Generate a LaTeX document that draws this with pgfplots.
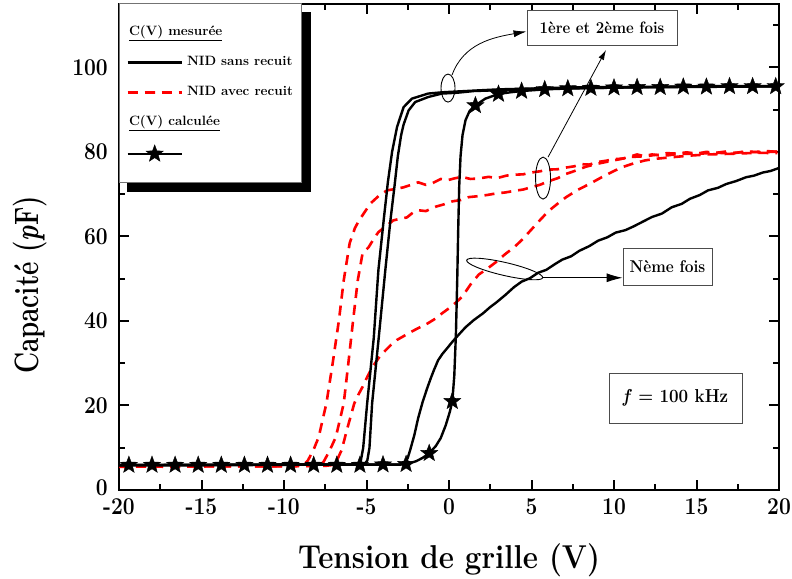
\documentclass[border=0pt]{standalone}
\usepackage{fontspec}
\usepackage{pgfplots}
\pgfplotsset{compat=1.18}
\usetikzlibrary{arrows.meta}

\pgfdeclareplotmark{fstar}{%
  \pgfpathmoveto{\pgfpointpolar{90}{\pgfplotmarksize}}%
  \pgfpathlineto{\pgfpointpolar{126}{0.42\pgfplotmarksize}}%
  \pgfpathlineto{\pgfpointpolar{162}{\pgfplotmarksize}}%
  \pgfpathlineto{\pgfpointpolar{198}{0.42\pgfplotmarksize}}%
  \pgfpathlineto{\pgfpointpolar{234}{\pgfplotmarksize}}%
  \pgfpathlineto{\pgfpointpolar{270}{0.42\pgfplotmarksize}}%
  \pgfpathlineto{\pgfpointpolar{306}{\pgfplotmarksize}}%
  \pgfpathlineto{\pgfpointpolar{342}{0.42\pgfplotmarksize}}%
  \pgfpathlineto{\pgfpointpolar{18}{\pgfplotmarksize}}%
  \pgfpathlineto{\pgfpointpolar{54}{0.42\pgfplotmarksize}}%
  \pgfpathclose
  \pgfusepathqfillstroke}

\newcommand{\tl}[1]{\scalebox{1}[1.15]{#1}}

\begin{document}
\begin{tikzpicture}[x=1pt,y=1pt]
% shadow of the legend box
\fill[black] (126.5,386) rectangle (310.5,566);
\begin{axis}[
  at={(119pt,88pt)}, anchor=south west,
  scale only axis, width=660pt, height=486pt,
  xmin=-20, xmax=20, ymin=0, ymax=115,
  xtick={-20,-15,...,20},
  xticklabels={\tl{-20},\tl{-15},\tl{-10},\tl{-5},\tl{0},\tl{5},\tl{10},\tl{15},\tl{20}},
  minor xtick={-17.5,-12.5,...,17.5},
  ytick={0,20,...,100},
  yticklabels={\raisebox{5pt}{\tl{0}},\tl{20},\tl{40},\tl{60},\tl{80},\tl{100}},
  minor ytick={10,30,...,110},
  tick align=inside,
  major tick length=10pt, minor tick length=6pt,
  every tick/.style={black, line width=2pt},
  axis line style={line width=2.6pt},
  ticklabel style={font=\bfseries\fontsize{21}{24}\selectfont, inner sep=0pt},
  xticklabel style={anchor=north, yshift=-8pt},
  yticklabel style={anchor=east, xshift=-11pt},
  xlabel={\scalebox{1}[1.12]{Tension de grille (V)}},
  ylabel={\scalebox{1}[1.3]{Capacité (\textit{p}F)}},
  label style={font=\bfseries\fontsize{29.5}{34}\selectfont},
  xlabel style={at={(axis description cs:0.5,-0.1605)}, anchor=base},
  ylabel style={at={(axis description cs:-0.1348,0.422)}, anchor=center, font=\bfseries\fontsize{26}{30}\selectfont},
  legend style={at={(axis description cs:0,1)}, anchor=north west, yshift=1pt,
    draw=black!55, line width=0.8pt, fill=white,
    inner xsep=7pt, inner ysep=21.5pt, row sep=15pt, column sep=3pt,
    font=\bfseries\fontsize{13.5}{15}\selectfont,
    nodes={inner sep=1pt, text height=10pt, text depth=3pt}},
  legend cell align=left,
  legend image code/.code={\draw[mark repeat=2, mark phase=2, #1] plot coordinates {(0pt,0pt) (27pt,0pt) (54pt,0pt)};},
]

% ---- NID avec recuit (red dashed) ----
\addplot[forget plot, red, line width=2.6pt, dash pattern=on 10pt off 7pt] coordinates {
(-20,5.6) (-17,5.5) (-14,5.7) (-11,5.6) (-9.2,5.7) (-8.8,6.0) (-8.55,7.0) (-8.2,9.6) (-7.9,12.5)
(-7.43,20.5) (-7.05,30) (-6.67,40.2) (-6.38,49.6) (-6.02,58.4) (-5.7,62) (-5.45,63.8) (-4.76,67.8)
(-4.2,69.8) (-3.75,70.9) (-3.3,71.2) (-2.77,71.6) (-2.3,72.2) (-1.87,72.8) (-1.4,72.2) (-1.0,72.6)
(-0.5,73.6) (-0.1,73.3) (0.4,73.8) (0.78,74.1) (1.3,73.6) (1.8,73.7) (2.4,74.1) (2.9,73.8) (3.5,74.4)
(4.0,74.6) (4.5,74.7) (4.94,75.1) (5.5,75.4) (6.0,75.8) (6.6,75.9) (7.1,76.3) (7.6,76.6) (8.0,77.1)
(8.5,77.0) (9.0,77.6) (9.5,77.9) (10.0,78.3) (10.5,78.4) (10.9,78.8) (11.4,79.4) (11.8,79.0) (12.3,79.4)
(12.7,79.2) (13.2,79.7) (13.8,79.6) (14.4,79.9) (15,79.6) (15.6,80.0) (16.2,79.8) (16.8,80.1) (17.3,79.7)
(17.9,80.1) (18.6,80.0) (19.2,80.2) (20,80.0)};
\addplot[forget plot, red, line width=2.6pt, dash pattern=on 10pt off 7pt] coordinates {
(-20,5.6) (-16,5.6) (-12,5.7) (-8.3,5.7) (-7.9,5.9) (-7.61,6.6) (-7.25,9.2) (-6.86,12.5) (-6.38,20.5)
(-6.1,30) (-5.81,40.2) (-5.53,49.6) (-5.24,56) (-4.88,57.4) (-4.5,59.8) (-4.28,61) (-3.8,62.5) (-3.37,63.8)
(-2.95,64.2) (-2.55,64.5) (-2.2,65.6) (-1.87,66.2) (-1.4,66.0) (-0.84,67.0) (-0.3,67.6) (0.2,68.3)
(0.7,68.6) (1.19,69.3) (1.7,69.5) (2.3,69.8) (2.9,70.2) (3.4,70.4) (4.0,70.8) (4.5,71.1) (4.94,71.6)
(5.5,72.2) (6.0,73.0) (6.6,73.8) (7.1,74.8) (7.7,75.6) (8.3,76.5) (9.0,77.2) (10.0,78.0) (11,78.8)
(12.0,79.0) (12.5,79.3) (13.3,79.2) (14,79.6) (15,79.5) (16,79.8) (17,79.7) (18,80.0) (19,79.9) (20,80.1)};
\addplot[forget plot, red, line width=2.6pt, dash pattern=on 10pt off 7pt] coordinates {
(-20,5.5) (-15,5.6) (-10,5.6) (-7.5,5.7) (-7.1,5.9) (-6.88,6.3) (-6.5,9.5) (-6.19,14.2) (-5.74,20.5)
(-5.5,22.5) (-5.24,24.4) (-4.95,26.8) (-4.66,29) (-4.25,31.3) (-3.86,33) (-3.5,34.4) (-3.16,35.5)
(-2.75,36.4) (-2.35,37.3) (-1.87,38.3) (-1.3,39.4) (-0.8,40.6) (-0.42,41.8) (0.0,43.0) (0.37,44.2)
(0.6,45.0) (0.81,45.8) (1.3,48.6) (1.81,51.0) (2.3,52.3) (2.87,54.0) (3.4,55.8) (3.94,57.4) (4.45,59.3)
(4.94,61.4) (5.5,63.8) (6.03,66.0) (6.6,67.8) (7.1,69.3) (7.8,71.0) (8.6,72.6) (9.25,74.0) (9.9,75.3)
(10.5,76.4) (11.2,77.3) (11.9,78.0) (12.6,78.4) (13.4,78.7) (14.5,79.1) (15.7,79.4) (16.6,79.5)
(17.5,79.6) (18.7,79.8) (19.9,79.7)};

% ---- NID sans recuit (black solid) ----
\addplot[forget plot, black, line width=2.4pt] coordinates {
(-20,5.9) (-15,5.9) (-10,6.0) (-6,6.0) (-5.5,6.2) (-5.35,6.8) (-5.2,10) (-4.96,20.5) (-4.56,36)
(-4.28,52) (-3.96,63.8) (-3.7,73) (-3.45,80) (-3.15,85.9) (-2.75,90.6) (-2.25,92.6) (-1.27,93.8)
(-0.44,94.1) (0.5,94.3) (1.5,94.5) (3,94.8) (5,95.0) (8,95.3) (12,95.4) (16,95.6) (20,95.6)};
\addplot[forget plot, black, line width=2.4pt] coordinates {
(-20,5.9) (-10,6.0) (-5.5,6.0) (-5.1,6.2) (-4.95,7) (-4.82,10) (-4.66,20.5) (-4.26,36) (-3.86,52)
(-3.55,63.8) (-3.3,72) (-3.1,79) (-2.9,84) (-2.75,86.5) (-2.45,89.8) (-2.05,91.8) (-1.25,93)
(-0.44,93.8) (0.5,94.0) (1.5,94.4) (3,94.6) (5,94.9) (8,95.1) (12,95.3) (16,95.4) (20,95.5)};
\addplot[forget plot, black, line width=2.4pt] coordinates {
(-20,5.9) (-15,5.9) (-10,6.0) (-5,6.0) (-3.0,6.0) (-2.7,6.3) (-2.5,7.6) (-2.35,9.5) (-2.1,13)
(-1.87,17) (-1.6,20.8) (-1.33,24) (-1.1,26.5) (-0.9,28.5) (-0.66,30.7) (-0.4,32.2) (-0.1,33.6)
(0.19,35.0) (0.6,36.8) (1.0,38.5) (1.5,40.2) (2.06,41.8) (2.5,43.3) (2.875,44.4) (3.4,46.1) (3.94,48.0)
(4.4,49.3) (4.9,50.1) (5.4,51.4) (5.9,52.1) (6.4,53.4) (6.86,54.5) (7.4,55.3) (7.9,56.6) (8.5,57.7)
(9.04,59.0) (9.6,59.8) (10.1,60.9) (10.7,61.5) (11.2,62.4) (11.8,63.6) (12.3,64.6) (12.9,65.4)
(13.5,66.9) (14.1,67.7) (14.6,68.9) (15.2,69.8) (15.7,70.9) (16.3,71.5) (16.8,72.4) (17.4,73.1)
(18.0,74.0) (18.5,74.4) (19.0,75.1) (19.5,75.5) (20,76.2)};

% ---- C(V) calculee ----
\addplot[forget plot, black, line width=2.4pt] coordinates {
(-20,5.9) (-3.0,6.0) (-2.6,6.1) (-2.0,6.8) (-1.6,7.6) (-1.2,8.7) (-0.8,10.4) (-0.5,12.3) (-0.2,15.3)
(0.05,18.5) (0.2,21) (0.32,27) (0.42,37) (0.5,50) (0.56,62) (0.62,72) (0.7,79) (0.82,84) (1.0,87.5)
(1.25,89.7) (1.6,91) (2.2,92.6) (3.0,93.7) (3.7,94.1) (4.4,94.4) (5.8,94.8) (7.2,95.0) (10,95.2)
(14,95.4) (20,95.5)};
\addplot[forget plot, only marks, mark=fstar, mark size=9pt, mark options={fill=black, draw=black, line width=0.4pt}] coordinates {
(-19.4,5.9) (-18.0,5.9) (-16.6,5.9) (-15.2,5.9) (-13.8,5.9) (-12.4,5.9) (-11.0,5.9) (-9.6,5.9)
(-8.2,5.9) (-6.8,5.9) (-5.4,5.9) (-4.0,6.0) (-2.6,6.1) (-1.2,8.7) (0.2,21) (1.6,91) (3.0,93.7)
(4.4,94.4) (5.8,94.8) (7.2,95.0) (8.6,95.1) (10.0,95.2) (11.4,95.3) (12.8,95.3) (14.2,95.4)
(15.6,95.4) (17.0,95.5) (18.4,95.5) (19.8,95.5)};

% ---- legend ----
\addlegendimage{empty legend}
\addlegendentry{\hspace*{-58pt}\underline{C(V) mesurée}}
\addlegendimage{black, line width=2.4pt}
\addlegendentry{NID sans recuit}
\addlegendimage{red, line width=2.6pt, dash pattern=on 10pt off 7pt}
\addlegendentry{NID avec recuit}
\addlegendimage{empty legend}
\addlegendentry{\hspace*{-58pt}\underline{C(V) calculée}}
\addlegendimage{black, line width=2.4pt, mark=fstar, mark size=9pt, mark options={fill=black, line width=0.4pt}}
\addlegendentry{}

\coordinate (e1) at (axis cs:-0.06,95.1);
\coordinate (e2) at (axis cs:5.7,73.8);
\coordinate (e3) at (axis cs:3.375,52.3);
\end{axis}

% ---- annotations ----
\begin{scope}[line width=0.9pt]
\draw (e1) ellipse [x radius=7pt, y radius=14pt];
\draw (e2) ellipse [x radius=7.5pt, y radius=21pt];
\draw[rotate around={-13:(e3)}] (e3) ellipse [x radius=39pt, y radius=6.5pt];
\end{scope}

\node[draw=black!70, line width=0.9pt, fill=white, minimum width=150pt, minimum height=35pt,
  font=\bfseries\fontsize{15}{18}\selectfont] (box1) at (602,550.5) {\scalebox{1}[1.1]{1ère et 2ème fois}};
\node[draw=black!70, line width=0.9pt, fill=white, minimum width=89pt, minimum height=37pt,
  font=\bfseries\fontsize{15.5}{18}\selectfont] (box3) at (667.5,311.5) {\scalebox{1}[1.1]{Nème fois}};
\node[draw=black!70, line width=0.9pt, fill=white, minimum width=133pt, minimum height=50pt,
  font=\bfseries\fontsize{17}{20}\selectfont] (box4) at (675.5,180) {\scalebox{1}[1.1]{\textit{f} = 100 kHz}};

\draw[line width=0.8pt, -{Latex[length=13pt,width=7pt]}] (e1) ++(4,13) to[out=70,in=190] ([yshift=-4pt]box1.west);
\draw[line width=0.8pt, -{Latex[length=10pt,width=6pt]}] (e2) ++(5,21) -- (606,528);
\path (e3) ++(38,-8.8) coordinate (a3);
\draw[line width=0.9pt, -{Latex[length=16pt,width=9pt]}] (a3) -- (a3 -| box3.west);

\pgfresetboundingbox
\path (0,0) rectangle (792,578);
\end{tikzpicture}
\end{document}
